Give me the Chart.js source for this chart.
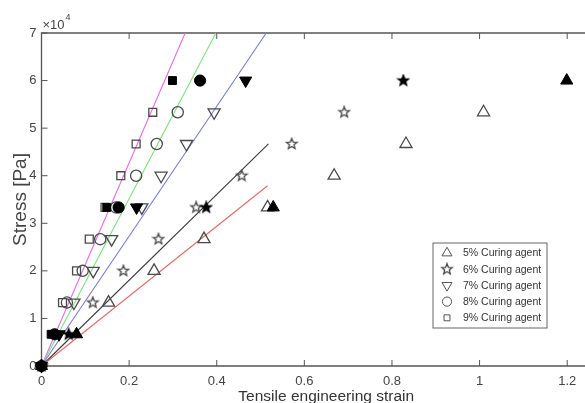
<!DOCTYPE html>
<html><head><meta charset="utf-8">
<script src="https://cdn.jsdelivr.net/npm/chart.js@4/dist/chart.umd.min.js"></script>
<style>
html,body{margin:0;padding:0;overflow:hidden;background:#fff;width:585px;height:403px}
#wrap{position:relative;width:620px;height:410px}
canvas{display:block}
</style></head>
<body><div id="wrap"><canvas id="c" width="620" height="410"></canvas></div>
<script>
// ---- data ----
const seriesLabels = ['5% Curing agent','6% Curing agent','7% Curing agent','8% Curing agent','9% Curing agent'];
const stressOpen   = [13333, 20000, 26667, 33333, 40000, 46667, 53333];   // Pa
const stressFilled = [0, 6667, 33333, 60000];                               // Pa

const strain5Open   = [0.153, 0.257, 0.371, 0.516, 0.668, 0.832, 1.009];
const strain5Filled = [0, 0.080, 0.529, 1.199];
const strain6Open   = [0.117, 0.187, 0.267, 0.353, 0.457, 0.571, 0.691];
const strain6Filled = [0, 0.062, 0.376, 0.826];
const strain7Open   = [0.074, 0.118, 0.160, 0.229, 0.273, 0.331, 0.394];
const strain7Filled = [0, 0.040, 0.217, 0.466];
const strain8Open   = [0.058, 0.094, 0.134, 0.170, 0.216, 0.263, 0.311];
const strain8Filled = [0, 0.030, 0.176, 0.362];
const strain9Open   = [0.048, 0.080, 0.109, 0.145, 0.181, 0.216, 0.254];
const strain9Filled = [0, 0.022, 0.149, 0.299];

// linear fits (start, end)
const fit5Strain = [0, 0.516], fit5Stress = [0, 37900];
const fit6Strain = [0, 0.518], fit6Stress = [0, 46700];
const fit7Strain = [0, 0.513], fit7Stress = [0, 70000];
const fit8Strain = [0, 0.398], fit8Stress = [0, 70000];
const fit9Strain = [0, 0.328], fit9Stress = [0, 70000];

const xTickValues = [0, 0.2, 0.4, 0.6, 0.8, 1, 1.2];
const yTickValues = [0, 10000, 20000, 30000, 40000, 50000, 60000, 70000];
const xTitle = 'Tensile engineering strain';
const yTitle = 'Stress [Pa]';
const yExponentLabel = '\u00d710';
const yExponent = '4';

// ---- styling ----
const FONT = '"Liberation Sans", Arial, sans-serif';
const TXT = '#444';

function makeStar(filled){
  const c=document.createElement('canvas'); c.width=14; c.height=14;
  const g=c.getContext('2d'); g.beginPath();
  for(let i=0;i<10;i++){
    const r=i%2?2.4:5.6; const a=-Math.PI/2+i*Math.PI/5;
    g.lineTo(7+r*Math.cos(a),7+r*Math.sin(a));
  }
  g.closePath();
  if(filled){g.fillStyle='#000';g.fill();}
  g.strokeStyle=filled?'#000':'#4a4a4a'; g.lineWidth=1.3; g.stroke();
  return c;
}
const starOpen = makeStar(false), starFilled = makeStar(true);

const markers = [
  {open:'triangle', filled:'triangle', rot:0,   r:7},
  {open:starOpen,   filled:starFilled, rot:0,   r:6},
  {open:'triangle', filled:'triangle', rot:180, r:7},
  {open:'circle',   filled:'circle',   rot:0,   r:5.6},
  {open:'rect',     filled:'rect',     rot:0,   r:5.6}
];
const fitColors = ['#e06a6a','#3a3a3a','#7a7ad8','#7ee07e','#e070e0'];

const openStrains   = [strain5Open, strain6Open, strain7Open, strain8Open, strain9Open];
const filledStrains = [strain5Filled, strain6Filled, strain7Filled, strain8Filled, strain9Filled];
const fitStrains = [fit5Strain, fit6Strain, fit7Strain, fit8Strain, fit9Strain];
const fitStresses = [fit5Stress, fit6Stress, fit7Stress, fit8Stress, fit9Stress];

const zip = (xs, ys) => xs.map((x,i)=>({x:x, y:ys[i]}));

const datasets = [];
for(let i=0;i<5;i++){
  datasets.push({
    label: seriesLabels[i]+' fit', data: zip(fitStrains[i], fitStresses[i]),
    showLine:true, borderColor:fitColors[i], borderWidth:1.1, pointRadius:0, clip:false, order:3
  });
}
for(let i=0;i<5;i++){
  const m = markers[i];
  datasets.push({
    label: seriesLabels[i], data: zip(openStrains[i], stressOpen),
    showLine:false, pointStyle:m.open, rotation:m.rot, pointRadius:m.r,
    borderColor:'#4a4a4a', backgroundColor:'rgba(0,0,0,0)', pointBorderWidth:1.3, clip:false, order:2
  });
  datasets.push({
    label: seriesLabels[i]+' end', data: zip(filledStrains[i], stressFilled),
    showLine:false, pointStyle:m.filled, rotation:m.rot, pointRadius:m.r,
    borderColor:'#000', backgroundColor:'#000', pointBorderWidth:1, clip:false, order:1
  });
}

const framePlugin = {
  id:'frame',
  beforeDatasetsDraw(chart){
    const {ctx, chartArea:a, scales:{x,y}} = chart;
    ctx.save();
    ctx.strokeStyle='#555'; ctx.lineWidth=1.3;
    ctx.beginPath();
    ctx.moveTo(a.right+20, a.top); ctx.lineTo(a.left, a.top); ctx.lineTo(a.left, a.bottom); ctx.lineTo(a.right+20, a.bottom);
    ctx.stroke();
    ctx.lineWidth=1;
    ctx.beginPath();
    xTickValues.forEach(v=>{ const px=x.getPixelForValue(v);
      ctx.moveTo(px,a.bottom); ctx.lineTo(px,a.bottom-6);
      ctx.moveTo(px,a.top); ctx.lineTo(px,a.top+6); });
    yTickValues.forEach(v=>{ const py=y.getPixelForValue(v);
      ctx.moveTo(a.left,py); ctx.lineTo(a.left+6,py); });
    ctx.stroke();
    // exponent label
    ctx.fillStyle=TXT; ctx.textBaseline='alphabetic'; ctx.textAlign='left';
    ctx.font='13px '+FONT;
    ctx.fillText(yExponentLabel, a.left+1, a.top-4);
    const w = ctx.measureText(yExponentLabel).width;
    ctx.font='9px '+FONT;
    ctx.fillText(yExponent, a.left+2+w, a.top-13);
    ctx.restore();
  },
  afterDraw(chart){
    const {ctx, chartArea:a} = chart;
    const L = a.left+391.5, T = a.top+210, W = 114, H = 85;
    ctx.save();
    ctx.fillStyle='#fff'; ctx.fillRect(L,T,W,H);
    ctx.strokeStyle='#666'; ctx.lineWidth=1; ctx.strokeRect(L,T,W,H);
    ctx.font='10.5px '+FONT; ctx.textBaseline='middle'; ctx.textAlign='left';
    for(let i=0;i<5;i++){
      const cy = T+10+i*16.2, cx = L+14;
      const m = markers[i];
      const opts = {pointStyle:m.open, rotation:m.rot, radius:(i===4?4.2:m.r*0.82), borderWidth:1.1};
      ctx.strokeStyle='#555'; ctx.fillStyle='rgba(0,0,0,0)';
      if(Chart.helpers && Chart.helpers.drawPoint) Chart.helpers.drawPoint(ctx, opts, cx, cy);
      ctx.fillStyle='#333';
      ctx.fillText(seriesLabels[i], L+30, cy+0.5);
    }
    ctx.restore();
  }
};

new Chart(document.getElementById('c'), {
  type:'scatter',
  data:{datasets},
  plugins:[framePlugin],
  options:{
    responsive:false, animation:false, devicePixelRatio:1,
    layout:{padding:{top:33, right:9, left:0, bottom:0}},
    plugins:{legend:{display:false}, tooltip:{enabled:false}},
    scales:{
      x:{
        type:'linear', min:0, max:1.3,
        grid:{display:false, drawTicks:false, tickLength:0},
        border:{display:false},
        afterFit(s){ s.height = 44; },
        afterBuildTicks(s){ s.ticks = xTickValues.map(v=>({value:v})); },
        ticks:{padding:8, color:TXT, font:{family:FONT, size:13},
          callback:(v)=>String(+Number(v).toFixed(1))},
        title:{display:true, text:xTitle, color:'#333', font:{family:FONT, size:15.5}, padding:{top:0,bottom:4}}
      },
      y:{
        type:'linear', min:0, max:70000,
        grid:{display:false, drawTicks:false, tickLength:0},
        border:{display:false},
        afterFit(s){ s.width = 41.5; },
        afterBuildTicks(s){ s.ticks = yTickValues.map(v=>({value:v})); },
        ticks:{padding:5, color:TXT, font:{family:FONT, size:13},
          callback:(v)=>String(v/10000)},
        title:{display:true, text:yTitle, color:TXT, font:{family:FONT, size:19}, padding:{top:9,bottom:0}}
      }
    }
  }
});
</script>
</body></html>
